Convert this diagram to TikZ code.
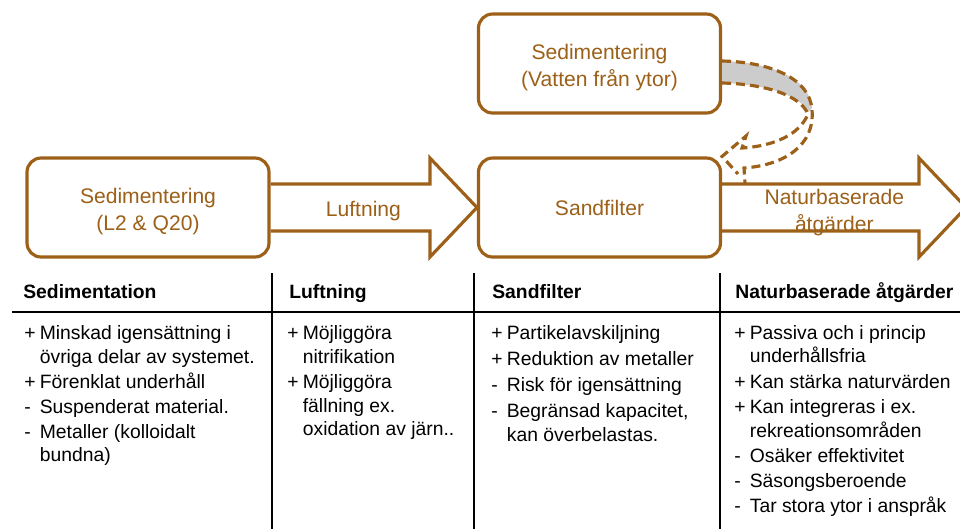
\documentclass[tikz,border=0pt]{standalone}
\usepackage{fontspec}
\setmainfont{Liberation Sans}
\usepackage{tikz}
\usetikzlibrary{calc}
\definecolor{brun}{RGB}{156,96,24}
\definecolor{band}{RGB}{204,204,204}
\newcommand{\punkter}[1]{\begin{tabular}{@{}p{0.31cm}@{}l@{}}#1\end{tabular}}
\newcommand{\tvarad}[1]{\raisebox{-0.08cm}[\height][\depth]{\begin{tabular}{@{}c@{}}#1\end{tabular}}}

\begin{document}
\begin{tikzpicture}[x=0.02cm,y=-0.02cm,
    stage/.style={draw=brun,line width=1.8pt,rounded corners=0.28cm,fill=white,
      minimum width=4.84cm,minimum height=1.98cm,align=center,text=brun,
      font=\fontsize{12}{15.2}\selectfont},
    flow/.style={draw=brun,line width=1.8pt,line join=miter},
    flowtext/.style={text=brun,align=center,font=\fontsize{12}{15.2}\selectfont},
    backflow/.style={draw=brun,line width=1.8pt,dash pattern=on 0.18cm off 0.1cm},
    colhead/.style={anchor=base west,inner sep=0pt,font=\fontsize{11}{13.4}\selectfont\bfseries},
    colbody/.style={anchor=north west,inner sep=0pt,font=\fontsize{11}{13.4}\selectfont},
    tablerule/.style={draw=black,line width=1.1pt}]
  \useasboundingbox (0,0) rectangle (960,529);

  % Steps
  \node[stage] (sed) at (148,207.5) {\tvarad{Sedimentering\\(L2 \& Q20)}};
  \node[stage] (sand) at (599.5,207.5) {Sandfilter};
  \node[stage] (ytor) at (599.5,63.5) {\tvarad{Sedimentering\\(Vatten från ytor)}};
  \coordinate (tip) at (966,207.5);

  % Block arrows
  \draw[flow] ([yshift=0.47cm]sed.east) -- ([shift={(-47,-23.5)}]sand.west)
    -- ([shift={(-47,-49.5)}]sand.west) -- (sand.west)
    -- ([shift={(-47,49.5)}]sand.west) -- ([shift={(-47,23.5)}]sand.west)
    -- ([yshift=-0.47cm]sed.east);
  \draw[flow] ([yshift=0.47cm]sand.east) -- ([shift={(-47,-23.5)}]tip)
    -- ([shift={(-47,-49.5)}]tip) -- (tip)
    -- ([shift={(-47,49.5)}]tip) -- ([shift={(-47,23.5)}]tip)
    -- ([yshift=-0.47cm]sand.east);
  \node[flowtext] (luft) at ($(sed.east)!0.45!(sand.west)+(0,4)$) {Luftning};
  \node[flowtext] (natur) at ($(sand.east)!0.46!(tip)+(0,5)$) {Naturbaserade\\åtgärder};

  % Return from the upper basin
  \coordinate (bandtop) at ([yshift=0.05cm]ytor.east);
  \coordinate (bandbot) at ([yshift=-0.39cm]ytor.east);
  \fill[band] (bandtop) .. controls (770,62) and (810,78) .. (812,108)
    -- (808,112) .. controls (800,95) and (765,84) .. (bandbot) -- cycle;
  \draw[backflow] (bandtop) .. controls (770,62) and (810,78) .. (812,110)
    .. controls (815,145) and (785,165) .. (744,168)
    -- ([shift={(23,-23.5)}]sand.east);
  \draw[backflow] (bandbot) .. controls (765,84) and (800,95) .. (808,114)
    .. controls (800,134) and (775,146) .. (742,148)
    -- (746,136) -- (sand.north east) -- (738,174);

  % Table
  \draw[tablerule,line width=1.4pt] (12,312) -- (960,312);
  \foreach \x in {272,474,720}
    \draw[tablerule] (\x,273) -- (\x,529);

  \node[colhead] (h1) at (23,298.5) {Sedimentation};
  \node[colhead] (h2) at (289,298.5) {Luftning};
  \node[colhead] (h3) at (492,298.5) {Sandfilter};
  \node[colhead] (h4) at (735,298.5) {Naturbaserade åtgärder};

  \node[colbody] (b1) at (24,323) {\punkter{
    + & Minskad igensättning i\\
      & övriga delar av systemet.\\[0.8pt]
    + & Förenklat underhåll\\[0.8pt]
    - & Suspenderat material.\\[0.8pt]
    - & Metaller (kolloidalt\\
      & bundna)}};
  \node[colbody] (b2) at (287,323) {\punkter{
    + & Möjliggöra\\
      & nitrifikation\\[1pt]
    + & Möjliggöra\\
      & fällning ex.\\
      & oxidation av järn..}};
  \node[colbody] (b3) at (491,322.5) {\punkter{
    + & Partikelavskiljning\\[1.5pt]
    + & Reduktion av metaller\\[1.5pt]
    - & Risk för igensättning\\[1.5pt]
    - & Begränsad kapacitet,\\
      & kan överbelastas.}};
  \node[colbody] (b4) at (734,322.5) {\punkter{
    + & Passiva och i princip\\
      & underhållsfria\\[1pt]
    + & Kan stärka naturvärden\\[1pt]
    + & Kan integreras i ex.\\
      & rekreationsområden\\[1pt]
    - & Osäker effektivitet\\[1pt]
    - & Säsongsberoende\\[1pt]
    - & Tar stora ytor i anspråk}};
\end{tikzpicture}
\end{document}
